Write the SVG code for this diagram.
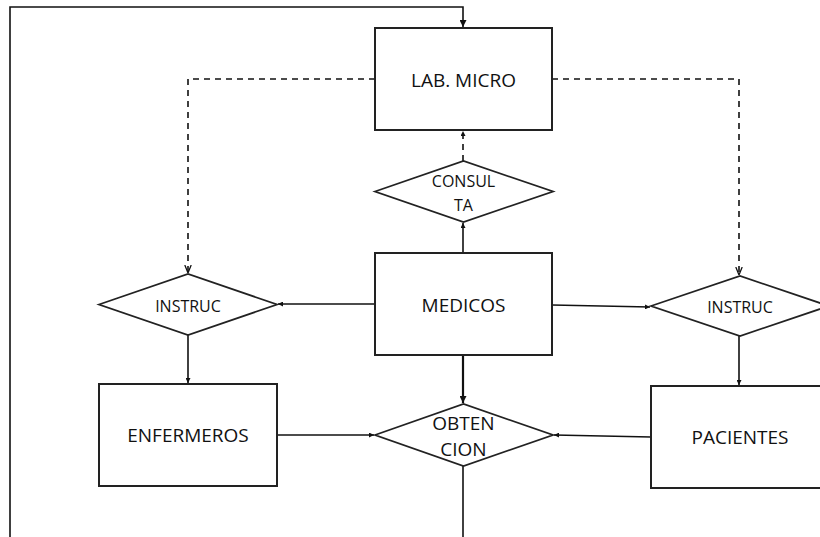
<svg xmlns="http://www.w3.org/2000/svg" width="820" height="537" viewBox="0 0 820 537">
<style>
.box{fill:#fff;stroke:#222;stroke-width:2}
.dia{fill:#fff;stroke:#222;stroke-width:1.8}
.ln{fill:none;stroke:#111;stroke-width:1.6}
.dash{fill:none;stroke:#111;stroke-width:1.6;stroke-dasharray:6 5}
.t{font-family:"Open Sans","Liberation Sans",sans-serif;fill:#111;text-anchor:middle}
.big{font-size:19px}
.sm{font-size:16px}
</style>
<defs>
<marker id="ah" viewBox="0 0 10 10" refX="10" refY="5" markerWidth="5" markerHeight="5" markerUnits="userSpaceOnUse" orient="auto"><path d="M0,0 L10,5 L0,10 z" fill="#111"/></marker>
<marker id="ah2" viewBox="0 0 10 10" refX="10" refY="5" markerWidth="7" markerHeight="7" markerUnits="userSpaceOnUse" orient="auto"><path d="M0,0 L10,5 L0,10 z" fill="#111"/></marker>
<marker id="av" viewBox="0 0 10 10" refX="10" refY="5" markerWidth="8" markerHeight="8" markerUnits="userSpaceOnUse" orient="auto"><path d="M0,1 L10,5 L0,9" fill="none" stroke="#111" stroke-width="1.6"/></marker>
</defs>
<rect width="820" height="537" fill="#fff"/>
<g id="connectors">
<path class="ln" d="M10,537 L10,7 L463,7 L463,27" marker-end="url(#ah2)"/>
<path class="dash" d="M463,161 L463,131" marker-end="url(#ah)"/>
<path class="ln" d="M463,253 L463,223" marker-end="url(#ah)"/>
<path class="dash" d="M375,79 L188,79 L188,273" marker-end="url(#av)"/>
<path class="dash" d="M552,79 L739,79 L739,275" marker-end="url(#av)"/>
<path class="ln" d="M375,304 L278,304" marker-end="url(#ah)"/>
<path class="ln" d="M552,305 L650,307" marker-end="url(#ah)"/>
<path class="ln" d="M188,335 L188,383" marker-end="url(#ah)"/>
<path class="ln" d="M739,336 L739,385" marker-end="url(#ah)"/>
<path class="ln" style="stroke-width:2.2" d="M463,355 L463,403" marker-end="url(#ah2)"/>
<path class="ln" d="M277,435 L374,435" marker-end="url(#ah)"/>
<path class="ln" d="M651,437 L554,435" marker-end="url(#ah)"/>
<path class="ln" d="M463,466 L463,537"/>
</g>
<g id="lab-micro"><rect class="box" x="375" y="28" width="177" height="102"/><text class="t big" x="463.5" y="87">LAB. MICRO</text></g>
<g id="consulta"><polygon class="dia" points="375,191.5 463.5,161 553,191.5 463.5,222"/><text class="t sm" x="463.5" y="187">CONSUL</text><text class="t sm" x="463.5" y="211">TA</text></g>
<g id="medicos"><rect class="box" x="375" y="253" width="177" height="102"/><text class="t big" x="463.5" y="312">MEDICOS</text></g>
<g id="instruc-left"><polygon class="dia" points="99,304.5 188,274 277,304.5 188,335"/><text class="t sm" x="188" y="312">INSTRUC</text></g>
<g id="instruc-right"><polygon class="dia" points="651,306 740,276 829,306 740,336"/><text class="t sm" x="740" y="313">INSTRUC</text></g>
<g id="enfermeros"><rect class="box" x="99" y="384" width="178" height="102"/><text class="t big" x="188" y="442">ENFERMEROS</text></g>
<g id="obtencion"><polygon class="dia" points="375,435 463.5,404 553,435 463.5,466"/><text class="t big" x="463.5" y="430">OBTEN</text><text class="t big" x="463.5" y="456">CION</text></g>
<g id="pacientes"><rect class="box" x="651" y="386" width="178" height="102"/><text class="t big" x="740" y="444">PACIENTES</text></g>
</svg>
